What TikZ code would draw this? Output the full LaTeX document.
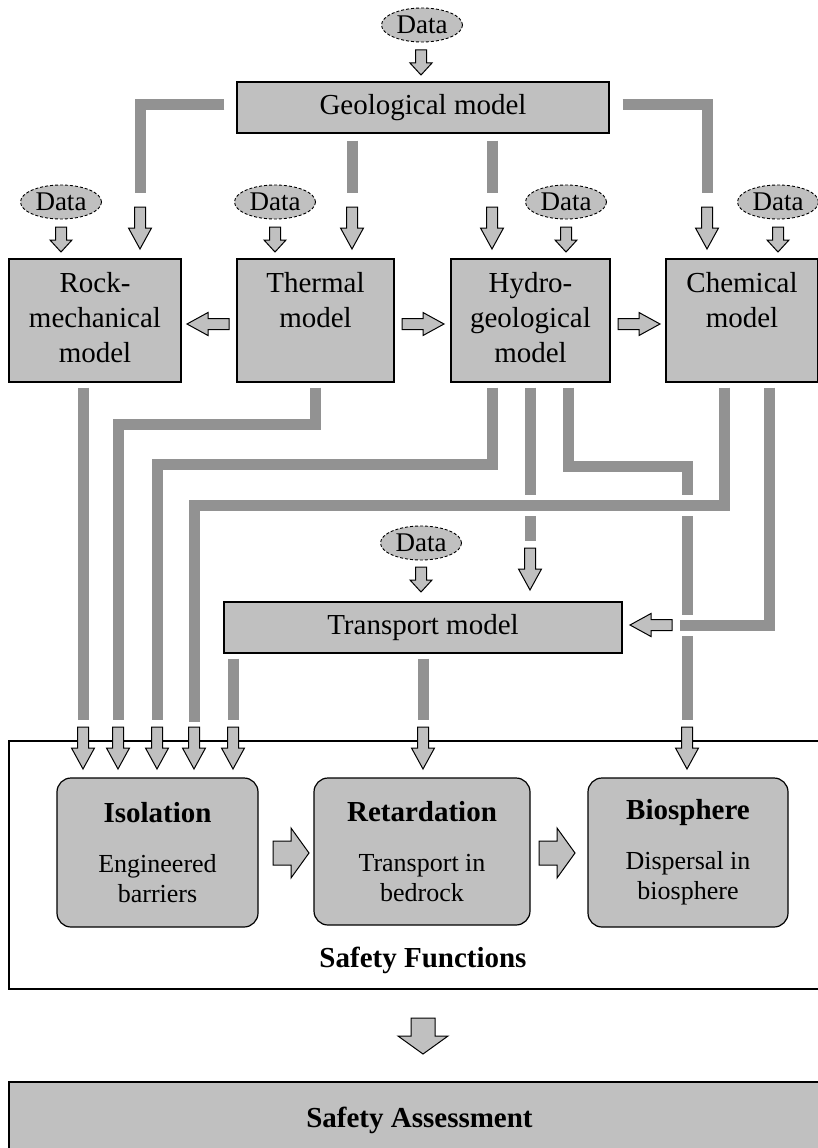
\documentclass[tikz,border=0pt]{standalone}
\usepackage{fontspec}
\setmainfont{Liberation Serif}
\usetikzlibrary{shapes.geometric}
\definecolor{boxgray}{RGB}{192,192,192}
\definecolor{bargray}{RGB}{146,146,146}
\tikzset{
	model/.style={draw=black, line width=1.2pt, fill=boxgray, align=center, inner sep=0pt, font=\fontsize{29}{35}\selectfont},
	datanode/.style={ellipse, draw=black, densely dashed, line width=0.9pt, fill=boxgray, minimum width=81pt, minimum height=34pt, inner sep=0pt, font=\fontsize{27}{30}\selectfont},
	safetybox/.style={model, rounded corners=14pt, font=\fontsize{26}{30}\selectfont},
	feed/.style={draw=bargray, line width=11pt},
	overpass/.style={preaction={draw=white, line width=21pt}},
	blockarrow/.style={fill=boxgray, draw=black, line width=1pt, line join=miter},
	pics/smalldown/.style={code={
		\filldraw[blockarrow] (-5.5,0) -- (5.5,0) -- (5.5,13) -- (11,13) -- (0,25) -- (-11,13) -- (-5.5,13) -- cycle;
		\coordinate (-tail) at (0,0);
	}},
	pics/bigdown/.style={code={
		\filldraw[blockarrow] (-5.5,0) -- (5.5,0) -- (5.5,21) -- (11.5,21) -- (0,42) -- (-11.5,21) -- (-5.5,21) -- cycle;
		\coordinate (-tail) at (0,0);
	}},
	pics/fatdown/.style={code={
		\filldraw[blockarrow] (-12,0) -- (12,0) -- (12,18) -- (25,18) -- (0,36) -- (-25,18) -- (-12,18) -- cycle;
		\coordinate (-tail) at (0,0);
	}},
}
\begin{document}
\begin{tikzpicture}[x=1pt, y=-1pt]
	\useasboundingbox (0,0) rectangle (817,1148);

	\node[datanode] (d0) at (422,25) {Data};
	\node[model, minimum width=372pt, minimum height=51pt] (geo) at (423,107.5) {Geological model};
	\node[datanode] (d1) at (61,202) {Data};
	\node[datanode] (d2) at (275,202) {Data};
	\node[datanode] (d3) at (566,202) {Data};
	\node[datanode] (d4) at (778,202) {Data};
	\node[model, minimum width=172pt, minimum height=123pt] (rock) at (95,320.5) {\strut Rock-\\mechanical\\model\strut};
	\node[model, minimum width=157pt, minimum height=123pt] (thermal) at (315.5,320.5) {\strut Thermal\\model\\\strut};
	\node[model, minimum width=159pt, minimum height=123pt] (hydro) at (530.5,320.5) {\strut Hydro-\\geological\\model\strut};
	\node[model, minimum width=152pt, minimum height=123pt] (chem) at (742,320.5) {\strut Chemical\\model\\\strut};
	\node[datanode] (d5) at (421,543) {Data};
	\node[model, minimum width=398pt, minimum height=51pt] (transport) at (423,627.5) {Transport model};
	\node[draw=black, line width=1.2pt, minimum width=821pt, minimum height=248pt] (sf) at (419.5,865) {};
	\node[font=\fontsize{29}{35}\selectfont\bfseries] (sflabel) at (423,960) {Safety Functions};
	\node[safetybox, minimum width=201pt, minimum height=149pt] (iso) at (157.5,852.5) {{\fontsize{29}{35}\selectfont\bfseries Isolation}\\[20pt]Engineered\\barriers};
	\node[safetybox, minimum width=216pt, minimum height=147pt] (ret) at (422,851.5) {{\fontsize{29}{35}\selectfont\bfseries Retardation}\\[20pt]Transport in\\bedrock};
	\node[safetybox, minimum width=200pt, minimum height=149pt] (bio) at (688,852.5) {{\fontsize{29}{35}\selectfont\bfseries Biosphere}\\[20pt]Dispersal in\\biosphere};
	\node[model, minimum width=821pt, minimum height=76pt, font=\fontsize{29}{35}\selectfont\bfseries] (sa) at (419.5,1120) {Safety Assessment};

	\pic (d0a) at (421,50) {smalldown};
	\pic (d1a) at (61,227) {smalldown};
	\pic (d2a) at (275,227) {smalldown};
	\pic (d3a) at (566,227) {smalldown};
	\pic (d4a) at (778,227) {smalldown};
	\pic (d5a) at (421,567) {smalldown};
	\pic (gr) at (140,207) {bigdown};
	\pic (gt) at (352,207) {bigdown};
	\pic (gh) at (492,207) {bigdown};
	\pic (gc) at (707,207) {bigdown};
	\pic[rotate=-90] (tr) at (229,324) {bigdown};
	\pic[rotate=90] (th) at (402,324) {bigdown};
	\pic[rotate=90] (hc) at (618,324) {bigdown};
	\pic (ht) at (530,548) {bigdown};
	\pic[rotate=-90] (ct) at (672,625) {bigdown};
	\pic (i1) at (83,727) {bigdown};
	\pic (i2) at (118,727) {bigdown};
	\pic (i3) at (157,727) {bigdown};
	\pic (i4) at (194,727) {bigdown};
	\pic (i5) at (233,727) {bigdown};
	\pic (r1) at (423,727) {bigdown};
	\pic (b1) at (687,727) {bigdown};
	\pic[rotate=90] (ir) at (273,853) {fatdown};
	\pic[rotate=90] (rb) at (539,853) {fatdown};
	\pic (sa0) at (423,1018) {fatdown};

	\draw[feed, shorten <=12pt, shorten >=14pt] ([yshift=3pt]geo.west) -| (gr-tail);
	\draw[feed, shorten <=7pt, shorten >=14pt] (geo.south -| gt-tail) -- (gt-tail);
	\draw[feed, shorten <=7pt, shorten >=14pt] (geo.south -| gh-tail) -- (gh-tail);
	\draw[feed, shorten <=13pt, shorten >=14pt] ([yshift=3pt]geo.east) -| (gc-tail);
	\draw[feed, shorten <=5pt, shorten >=7pt] (rock.south -| i1-tail) -- (i1-tail);
	\draw[feed, shorten <=5pt, shorten >=7pt] (thermal.south) -- ++(0,42) -| (i2-tail);
	\draw[feed, shorten <=5pt, shorten >=7pt] (hydro.south -| gh-tail) -- ++(0,82) -| (i3-tail);
	\draw[feed, shorten <=5pt, shorten >=7pt] (hydro.south -| ht-tail) -- (ht-tail);
	\draw[feed, shorten <=5pt, shorten >=7pt] ([xshift=37.5pt]hydro.south) -- ++(0,84) -| (b1-tail);
	\draw[feed, overpass, shorten <=5pt, shorten >=5pt] ([xshift=-18pt]chem.south) -- ++(0,123) -| (i4-tail);
	\draw[feed, overpass, shorten <=5pt, shorten >=8pt] ([xshift=27pt]chem.south) |- (ct-tail);
	\draw[feed, shorten <=5pt, shorten >=7pt] (transport.south -| i5-tail) -- (i5-tail);
	\draw[feed, shorten <=5pt, shorten >=7pt] (transport.south) -- (r1-tail);
\end{tikzpicture}
\end{document}
